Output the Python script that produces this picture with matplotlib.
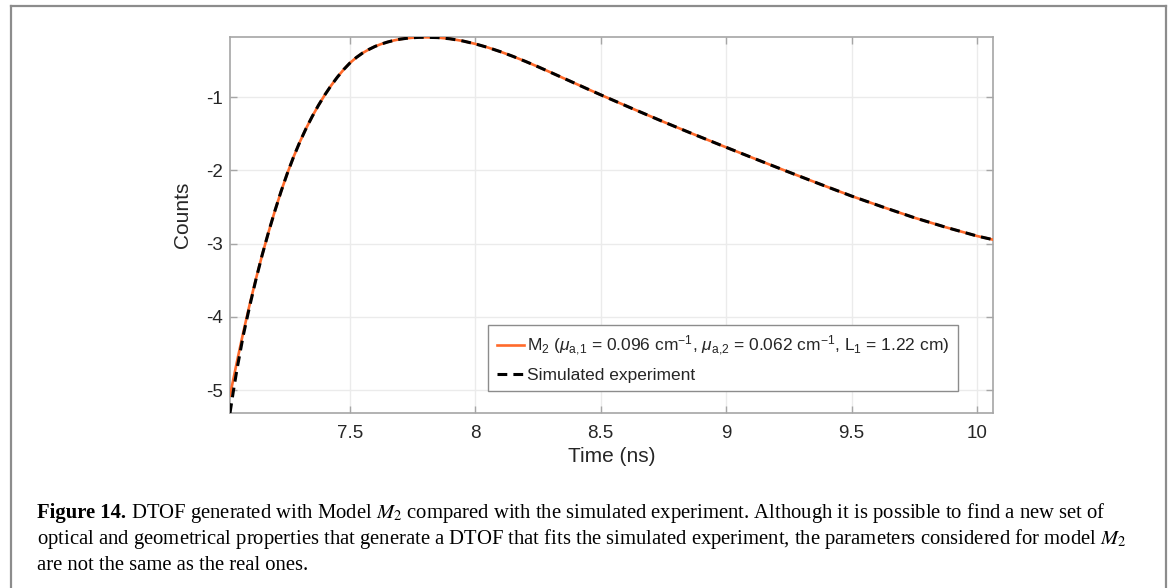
import numpy as np
from matplotlib import pyplot as plt
from matplotlib.lines import Line2D

# data (time in ns, log counts)
t_model = [7.022, 7.05, 7.075, 7.10, 7.125, 7.15, 7.175, 7.20, 7.225, 7.25,
           7.275, 7.30, 7.325, 7.35, 7.375, 7.40, 7.425, 7.45, 7.475, 7.50,
           7.525, 7.55, 7.575, 7.60, 7.625, 7.65, 7.675, 7.70, 7.725, 7.75,
           7.775, 7.80, 7.85, 7.90, 7.95, 8.00, 8.05, 8.10, 8.15, 8.20,
           8.25, 8.30, 8.35, 8.40, 8.45, 8.50, 8.625, 8.75, 8.875, 9.00,
           9.125, 9.25, 9.375, 9.50, 9.625, 9.75, 9.875, 10.00, 10.064]
y_model = [-5.07, -4.605, -4.208, -3.835, -3.485, -3.158, -2.85, -2.563, -2.293, -2.045,
           -1.82, -1.615, -1.43, -1.263, -1.11, -0.97, -0.843, -0.728, -0.625, -0.535,
           -0.461, -0.40, -0.351, -0.309, -0.276, -0.249, -0.227, -0.21, -0.198, -0.19,
           -0.185, -0.184, -0.188, -0.205, -0.234, -0.274, -0.323, -0.38, -0.444, -0.513,
           -0.586, -0.662, -0.739, -0.816, -0.893, -0.969, -1.155, -1.337, -1.513, -1.685,
           -1.855, -2.023, -2.188, -2.35, -2.50, -2.645, -2.775, -2.895, -2.945]

t_sim = [7.022, 7.035, 7.05, 7.075, 7.10, 7.125] + t_model[5:]
y_sim = [-5.31, -5.02, -4.71, -4.25, -3.86, -3.495] + y_model[5:]

x_ticks = [7.5, 8, 8.5, 9, 9.5, 10]
x_ticklabels = ['7.5', '8', '8.5', '9', '9.5', '10']
y_ticks = [-5, -4, -3, -2, -1]

label_model = (r"M$_2$ ($\mu_{\mathrm{a{,}1}}$ = 0.096 cm$^{-1}$, "
               r"$\mu_{\mathrm{a{,}2}}$ = 0.062 cm$^{-1}$, L$_1$ = 1.22 cm)")
label_sim = "Simulated experiment"

cap_bold = "Figure 14."
cap_line1 = (" DTOF generated with Model $M_2$ compared with the simulated experiment. "
             "Although it is possible to find a new set of")
cap_line2 = ("optical and geometrical properties that generate a DTOF that fits the "
             "simulated experiment, the parameters considered for model $M_2$")
cap_line3 = "are not the same as the real ones."

plt.rcParams['font.family'] = ['Liberation Sans', 'DejaVu Sans']
plt.rcParams['axes.unicode_minus'] = False
plt.rcParams['mathtext.fontset'] = 'custom'
plt.rcParams['mathtext.rm'] = 'Liberation Sans'
plt.rcParams['mathtext.it'] = 'Liberation Sans:italic'
plt.rcParams['mathtext.bf'] = 'Liberation Sans:bold'

W, H = 1173, 588
fig = plt.figure(figsize=(W / 100, H / 100), dpi=100)
ax = fig.add_axes([230 / W, 1 - 413 / H, (993 - 230) / W, (413 - 37) / H])

ax.plot(t_model, y_model, color='#FF6A2B', lw=1.9, label=label_model, zorder=3)
ax.plot(t_sim, y_sim, color='black', lw=2.2, linestyle=(0, (3.2, 2.0)),
        label=label_sim, zorder=4)

ax.set_xlim(7.022, 10.064)
ax.set_ylim(-5.31, -0.18)
ax.set_xticks(x_ticks)
ax.set_xticklabels(x_ticklabels)
ax.set_yticks(y_ticks)
ax.grid(True, color='#ebebeb', lw=1.0)
ax.set_axisbelow(True)
for s in ax.spines.values():
    s.set_color('#a6a6a6')
    s.set_linewidth(1.2)
ax.tick_params(direction='in', length=5, width=1, color='#a6a6a6',
               labelcolor='#262626', labelsize=13.5, top=True, right=True)
ax.tick_params(axis='x', pad=9)
ax.tick_params(axis='y', pad=5)
ax.set_xlabel('Time (ns)', fontsize=15, color='#262626', labelpad=3)
ax.set_ylabel('Counts', fontsize=15, color='#262626')
ax.yaxis.set_label_coords(-0.05, 0.527)

leg = ax.legend(loc='upper left', bbox_to_anchor=((488 - 230) / 763, (413 - 325) / 376),
                borderaxespad=0, fontsize=12.5, handlelength=1.6, handletextpad=0.15,
                labelspacing=0.55, borderpad=0.5, fancybox=False, framealpha=1)
leg.get_frame().set_edgecolor('#8c8c8c')
leg.get_frame().set_linewidth(1.0)
for txt in leg.get_texts():
    txt.set_color('#262626')

# outer frame around figure + caption
fr = dict(color='#8c8c8c', lw=1.6, transform=fig.transFigure)
fig.add_artist(Line2D([11 / W, 11 / W], [0, 1 - 6 / H], **fr))
fig.add_artist(Line2D([1166 / W, 1166 / W], [0, 1 - 6 / H], **fr))
fig.add_artist(Line2D([11 / W, 1166 / W], [1 - 6 / H, 1 - 6 / H], **fr))

# caption, sized so the second line spans like the reference
serif = ['Liberation Serif', 'DejaVu Serif']
renderer = fig.canvas.get_renderer()
probe = fig.text(0, 0, cap_line2, family=serif, fontsize=12, math_fontfamily='stix')
w12 = probe.get_window_extent(renderer).width
probe.remove()
cap_fs = 12 * (1125 - 37) / w12

x0 = 37 / W
t1 = fig.text(x0, 1 - 518 / H, cap_bold, family=serif, fontsize=cap_fs,
              fontweight='bold', va='baseline')
wb = t1.get_window_extent(renderer).width
fig.text(x0 + wb / W, 1 - 518 / H, cap_line1, family=serif, fontsize=cap_fs,
         va='baseline', math_fontfamily='stix')
fig.text(x0, 1 - 544 / H, cap_line2, family=serif, fontsize=cap_fs,
         va='baseline', math_fontfamily='stix')
fig.text(x0, 1 - 570 / H, cap_line3, family=serif, fontsize=cap_fs, va='baseline')

fig.savefig('out.png', dpi=100)
